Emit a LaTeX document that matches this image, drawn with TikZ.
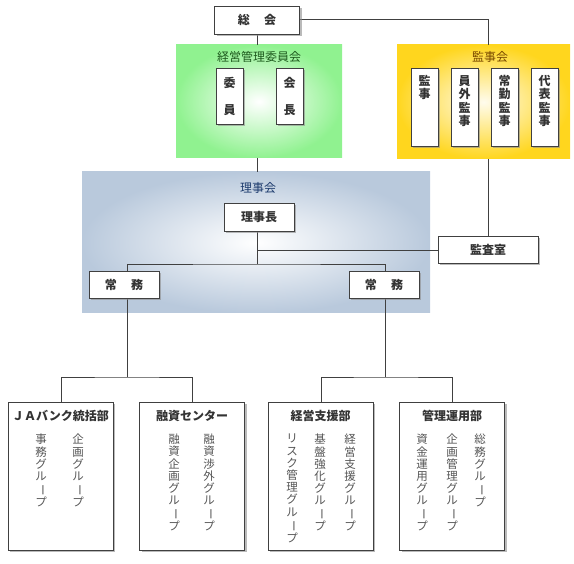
\documentclass[tikz,border=0pt]{standalone}
\usepackage{fontspec}
\usepackage{graphicx}
\setmainfont{Noto Sans CJK JP}
\usetikzlibrary{shadows}

\definecolor{boxtext}{HTML}{333333}
\definecolor{grouptext}{HTML}{555555}
\definecolor{keieigreen}{HTML}{90F290}
\definecolor{keieitext}{HTML}{1E5A1E}
\definecolor{kanjigold}{HTML}{FFD61E}
\definecolor{kanjitext}{HTML}{7A4A00}
\definecolor{rijiblue}{HTML}{B9C9DC}
\definecolor{rijitext}{HTML}{1E3C6E}

% vertical prolonged sound mark
\newcommand{\vbar}{\rotatebox[origin=c]{-90}{ー}}

\begin{document}
\begin{tikzpicture}[x=1pt, y=-1pt]
    % Define styles
    \tikzstyle{post} = [rectangle, draw=black!75, line width=0.9pt, fill=white, text=boxtext, font=\bfseries\fontsize{12}{14}\selectfont, inner sep=0pt, drop shadow={shadow xshift=2pt, shadow yshift=-2pt, fill=black!45, opacity=0.6}]
    \tikzstyle{dept} = [post, minimum width=105pt, minimum height=148pt]
    \tikzstyle{tall} = [post, minimum width=27pt, align=center]
    \tikzstyle{depttitle} = [text=boxtext, font=\bfseries\fontsize{12}{14}\selectfont, inner sep=0pt]
    \tikzstyle{group} = [anchor=north, align=center, text=grouptext, font=\fontsize{11.5}{12.2}\selectfont, inner sep=0pt]
    \tikzstyle{stack} = [anchor=north, align=center, text=boxtext, font=\bfseries\fontsize{12}{13.5}\selectfont, inner sep=0pt]
    \tikzstyle{title} = [font=\fontsize{12}{14}\selectfont, inner sep=0pt]
    \tikzstyle{link} = [draw=black!75, line width=0.8pt]

    \useasboundingbox (0,0) rectangle (574,564);

    % Areas
    \shade[inner color=white, outer color=keieigreen] (176,45) rectangle (342,158);
    \shade[inner color=kanjigold!8, outer color=kanjigold] (397,45) rectangle (570,159);
    \shade[inner color=white, outer color=rijiblue] (82,172) rectangle (430,313);
    \node [title, text=keieitext] (keieilabel) at (259,57) {経営管理委員会};
    \node [title, text=kanjitext] (kanjilabel) at (490,57) {監事会};
    \node [title, text=rijitext] (rijilabel) at (258,188) {理事会};

    % Lines
    \coordinate (bar) at (257,264);
    \coordinate (splitL) at (127,377);
    \coordinate (splitR) at (385,377);
    \draw [link] (257,20) -- (257,45);
    \draw [link] (257,19) -| (488,45);
    \draw [link] (257,158) -- (257,172);
    \draw [link] (488,159) -- (488,240);
    \draw [link] (257,217) -- (bar);
    \draw [link] (257,250) -- (470,250);
    \draw [link] (127,285) |- (bar) -| (385,285);
    \draw [link] (127,285) -- (splitL);
    \draw [link] (385,285) -- (splitR);
    \draw [link] (61,420) |- (splitL) -| (192,420);
    \draw [link] (321,420) |- (splitR) -| (452,420);

    % Top posts
    \node [post, minimum width=85pt, minimum height=28pt] (soukai) at (257,20) {総\hspace{1.2em}会};
    \node [tall, minimum height=56pt] (iin) at (229.5,96) {委\\[13pt]員};
    \node [tall, minimum height=56pt] (kaicho) at (289.5,96) {会\\[13pt]長};
    \node [tall, minimum height=78pt] (kanji) at (424.5,107) {};
    \node [tall, minimum height=78pt] (ingai) at (464.5,107) {};
    \node [tall, minimum height=78pt] (jokin) at (504.5,107) {};
    \node [tall, minimum height=78pt] (daihyo) at (544.5,107) {};
    \node [stack] (kanji-t) at (424.5,75) {監\\事};
    \node [stack] (ingai-t) at (464.5,75) {員\\外\\監\\事};
    \node [stack] (jokin-t) at (504.5,75) {常\\勤\\監\\事};
    \node [stack] (daihyo-t) at (544.5,75) {代\\表\\監\\事};

    % Board
    \node [post, minimum width=70pt, minimum height=28pt] (richo) at (259,217) {理事長};
    \node [post, minimum width=100pt, minimum height=27pt] (kansa) at (488,249.5) {監査室};
    \node [post, minimum width=70pt, minimum height=27pt] (jomuL) at (124,284.5) {常\hspace{1.2em}務};
    \node [post, minimum width=70pt, minimum height=27pt] (jomuR) at (384,284.5) {常\hspace{1.2em}務};

    % Departments
    \node [dept] (ja) at (60.5,476) {};
    \node [dept] (yushi) at (192,476) {};
    \node [dept] (shien) at (320.5,476) {};
    \node [dept] (unyo) at (452,476) {};
    \node [depttitle] (ja-t) at (60.5,416) {ＪＡバンク統括部};
    \node [depttitle] (yushi-t) at (192,416) {融資センター};
    \node [depttitle] (shien-t) at (320.5,416) {経営支援部};
    \node [depttitle] (unyo-t) at (452,416) {管理運用部};

    % Groups
    \node [group] (jimu) at (41,434) {事\\務\\グ\\ル\\\vbar\\プ};
    \node [group] (kikaku) at (78,434) {企\\画\\グ\\ル\\\vbar\\プ};
    \node [group] (yushikikaku) at (174,434) {融\\資\\企\\画\\グ\\ル\\\vbar\\プ};
    \node [group] (shogai) at (209,434) {融\\資\\渉\\外\\グ\\ル\\\vbar\\プ};
    \node [group] (risk) at (292,434) {リ\\ス\\ク\\管\\理\\グ\\ル\\\vbar\\プ};
    \node [group] (kiban) at (320,434) {基\\盤\\強\\化\\グ\\ル\\\vbar\\プ};
    \node [group] (keieishien) at (350,434) {経\\営\\支\\援\\グ\\ル\\\vbar\\プ};
    \node [group] (shikin) at (422,434) {資\\金\\運\\用\\グ\\ル\\\vbar\\プ};
    \node [group] (kikakukanri) at (452,434) {企\\画\\管\\理\\グ\\ル\\\vbar\\プ};
    \node [group] (somu) at (480,434) {総\\務\\グ\\ル\\\vbar\\プ};
\end{tikzpicture}
\end{document}
